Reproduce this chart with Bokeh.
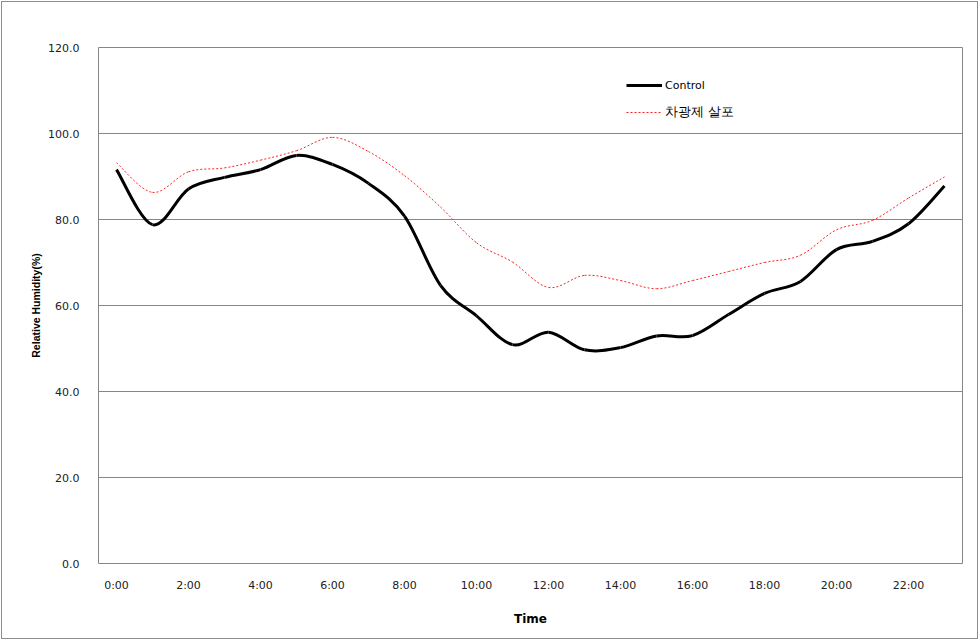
from bokeh.plotting import figure
from bokeh.layouts import column
from bokeh.models import FixedTicker, Range1d, Legend, LegendItem, PrintfTickFormatter
from bokeh.embed import file_html
from bokeh.resources import INLINE

# ---- data ----
hours = list(range(24))
hour_labels = ["%d:00" % h for h in hours]
control = [91.6, 78.8, 87.1, 89.8, 91.6, 94.9, 92.8, 88.4, 80.8, 64.7, 57.6, 50.9,
           53.8, 49.7, 50.2, 52.9, 53.0, 57.9, 62.8, 65.6, 73.0, 74.9, 79.0, 87.8]
treated = [93.2, 86.3, 91.1, 92.0, 93.8, 96.0, 99.1, 95.8, 90.2, 82.9, 74.6, 70.1,
           64.2, 67.0, 65.8, 63.9, 65.8, 67.9, 70.0, 71.7, 77.6, 79.8, 85.0, 89.9]
series_names = ["Control", "차광제 살포"]
y_ticks = [0, 20, 40, 60, 80, 100, 120]
x_tick_hours = list(range(0, 24, 2))


def smooth_segments(xs, ys):
    """Bezier segments through the data points (Excel-style smoothed line)."""
    n = len(xs)
    d = dict(x0=[], y0=[], x1=[], y1=[], cx0=[], cy0=[], cx1=[], cy1=[])
    for i in range(n - 1):
        ip = max(i - 1, 0)
        inn = min(i + 2, n - 1)
        d["x0"].append(xs[i]); d["y0"].append(ys[i])
        d["x1"].append(xs[i + 1]); d["y1"].append(ys[i + 1])
        d["cx0"].append(xs[i] + (xs[i + 1] - xs[ip]) / 6.0)
        d["cy0"].append(ys[i] + (ys[i + 1] - ys[ip]) / 6.0)
        d["cx1"].append(xs[i + 1] - (xs[inn] - xs[i]) / 6.0)
        d["cy1"].append(ys[i + 1] - (ys[inn] - ys[i]) / 6.0)
    return d


p = figure(width=975, height=636, output_backend="svg", toolbar_location=None,
           x_range=Range1d(-0.5, 23.5), y_range=Range1d(0, 120),
           min_border_left=96, min_border_right=15, min_border_top=45, min_border_bottom=75)

p.background_fill_color = "white"
p.border_fill_color = "white"
p.outline_line_color = "#868686"
p.outline_line_width = 1

# grid
p.xgrid.grid_line_color = None
p.ygrid.grid_line_color = "#868686"
p.ygrid.grid_line_width = 1

# axes
p.yaxis.ticker = FixedTicker(ticks=y_ticks)
p.yaxis.formatter = PrintfTickFormatter(format="%.1f")
p.xaxis.ticker = FixedTicker(ticks=x_tick_hours)
p.xaxis.major_label_overrides = {h: hour_labels[h] for h in x_tick_hours}
for ax in (p.xaxis[0], p.yaxis[0]):
    ax.axis_line_color = None
    ax.major_tick_line_color = None
    ax.minor_tick_line_color = None
    ax.major_label_text_font = "DejaVu Sans"
    ax.major_label_text_font_size = "11px"
    ax.major_label_text_color = "#222222"
    ax.axis_label_text_font_style = "bold"
    ax.axis_label_text_color = "#000000"
p.yaxis.major_label_standoff = 13
p.xaxis.major_label_standoff = 9
p.yaxis.axis_label = "Relative Humidity(%)"
p.yaxis.axis_label_text_font = "Liberation Sans"
p.yaxis.axis_label_text_font_size = "10.5px"
p.yaxis.axis_label_standoff = 3
p.xaxis.axis_label = "Time"
p.xaxis.axis_label_text_font = "DejaVu Sans"
p.xaxis.axis_label_text_font_size = "12px"
p.xaxis.axis_label_standoff = 17

# series
sc = smooth_segments(hours, control)
st = smooth_segments(hours, treated)
r_t = p.bezier(x0="x0", y0="y0", x1="x1", y1="y1", cx0="cx0", cy0="cy0", cx1="cx1", cy1="cy1",
               source=st, line_color="#ff2020", line_width=1, line_dash="2 2")
r_c = p.bezier(x0="x0", y0="y0", x1="x1", y1="y1", cx0="cx0", cy0="cy0", cx1="cx1", cy1="cy1",
               source=sc, line_color="#000000", line_width=3)


def make_legend(item, loc, size):
    lg = Legend(items=[item], location=loc)
    lg.border_line_color = None
    lg.background_fill_color = None
    lg.background_fill_alpha = 0
    lg.padding = 0
    lg.margin = 0
    lg.glyph_width = 36
    lg.glyph_height = 20
    lg.label_height = 20
    lg.label_standoff = 3
    lg.label_text_font = "DejaVu Sans"
    lg.label_text_font_size = size
    lg.label_text_color = "#000000"
    return lg


p.add_layout(make_legend(LegendItem(label=series_names[0], renderers=[r_c]), (528, 468), "11px"), "center")
p.add_layout(make_legend(LegendItem(label=series_names[1], renderers=[r_t]), (528, 441), "13px"), "center")

page = column(p, styles={"border": "1px solid #8c8c8c", "margin": "1px"})

open("out.html", "w").write(file_html(page, INLINE))
